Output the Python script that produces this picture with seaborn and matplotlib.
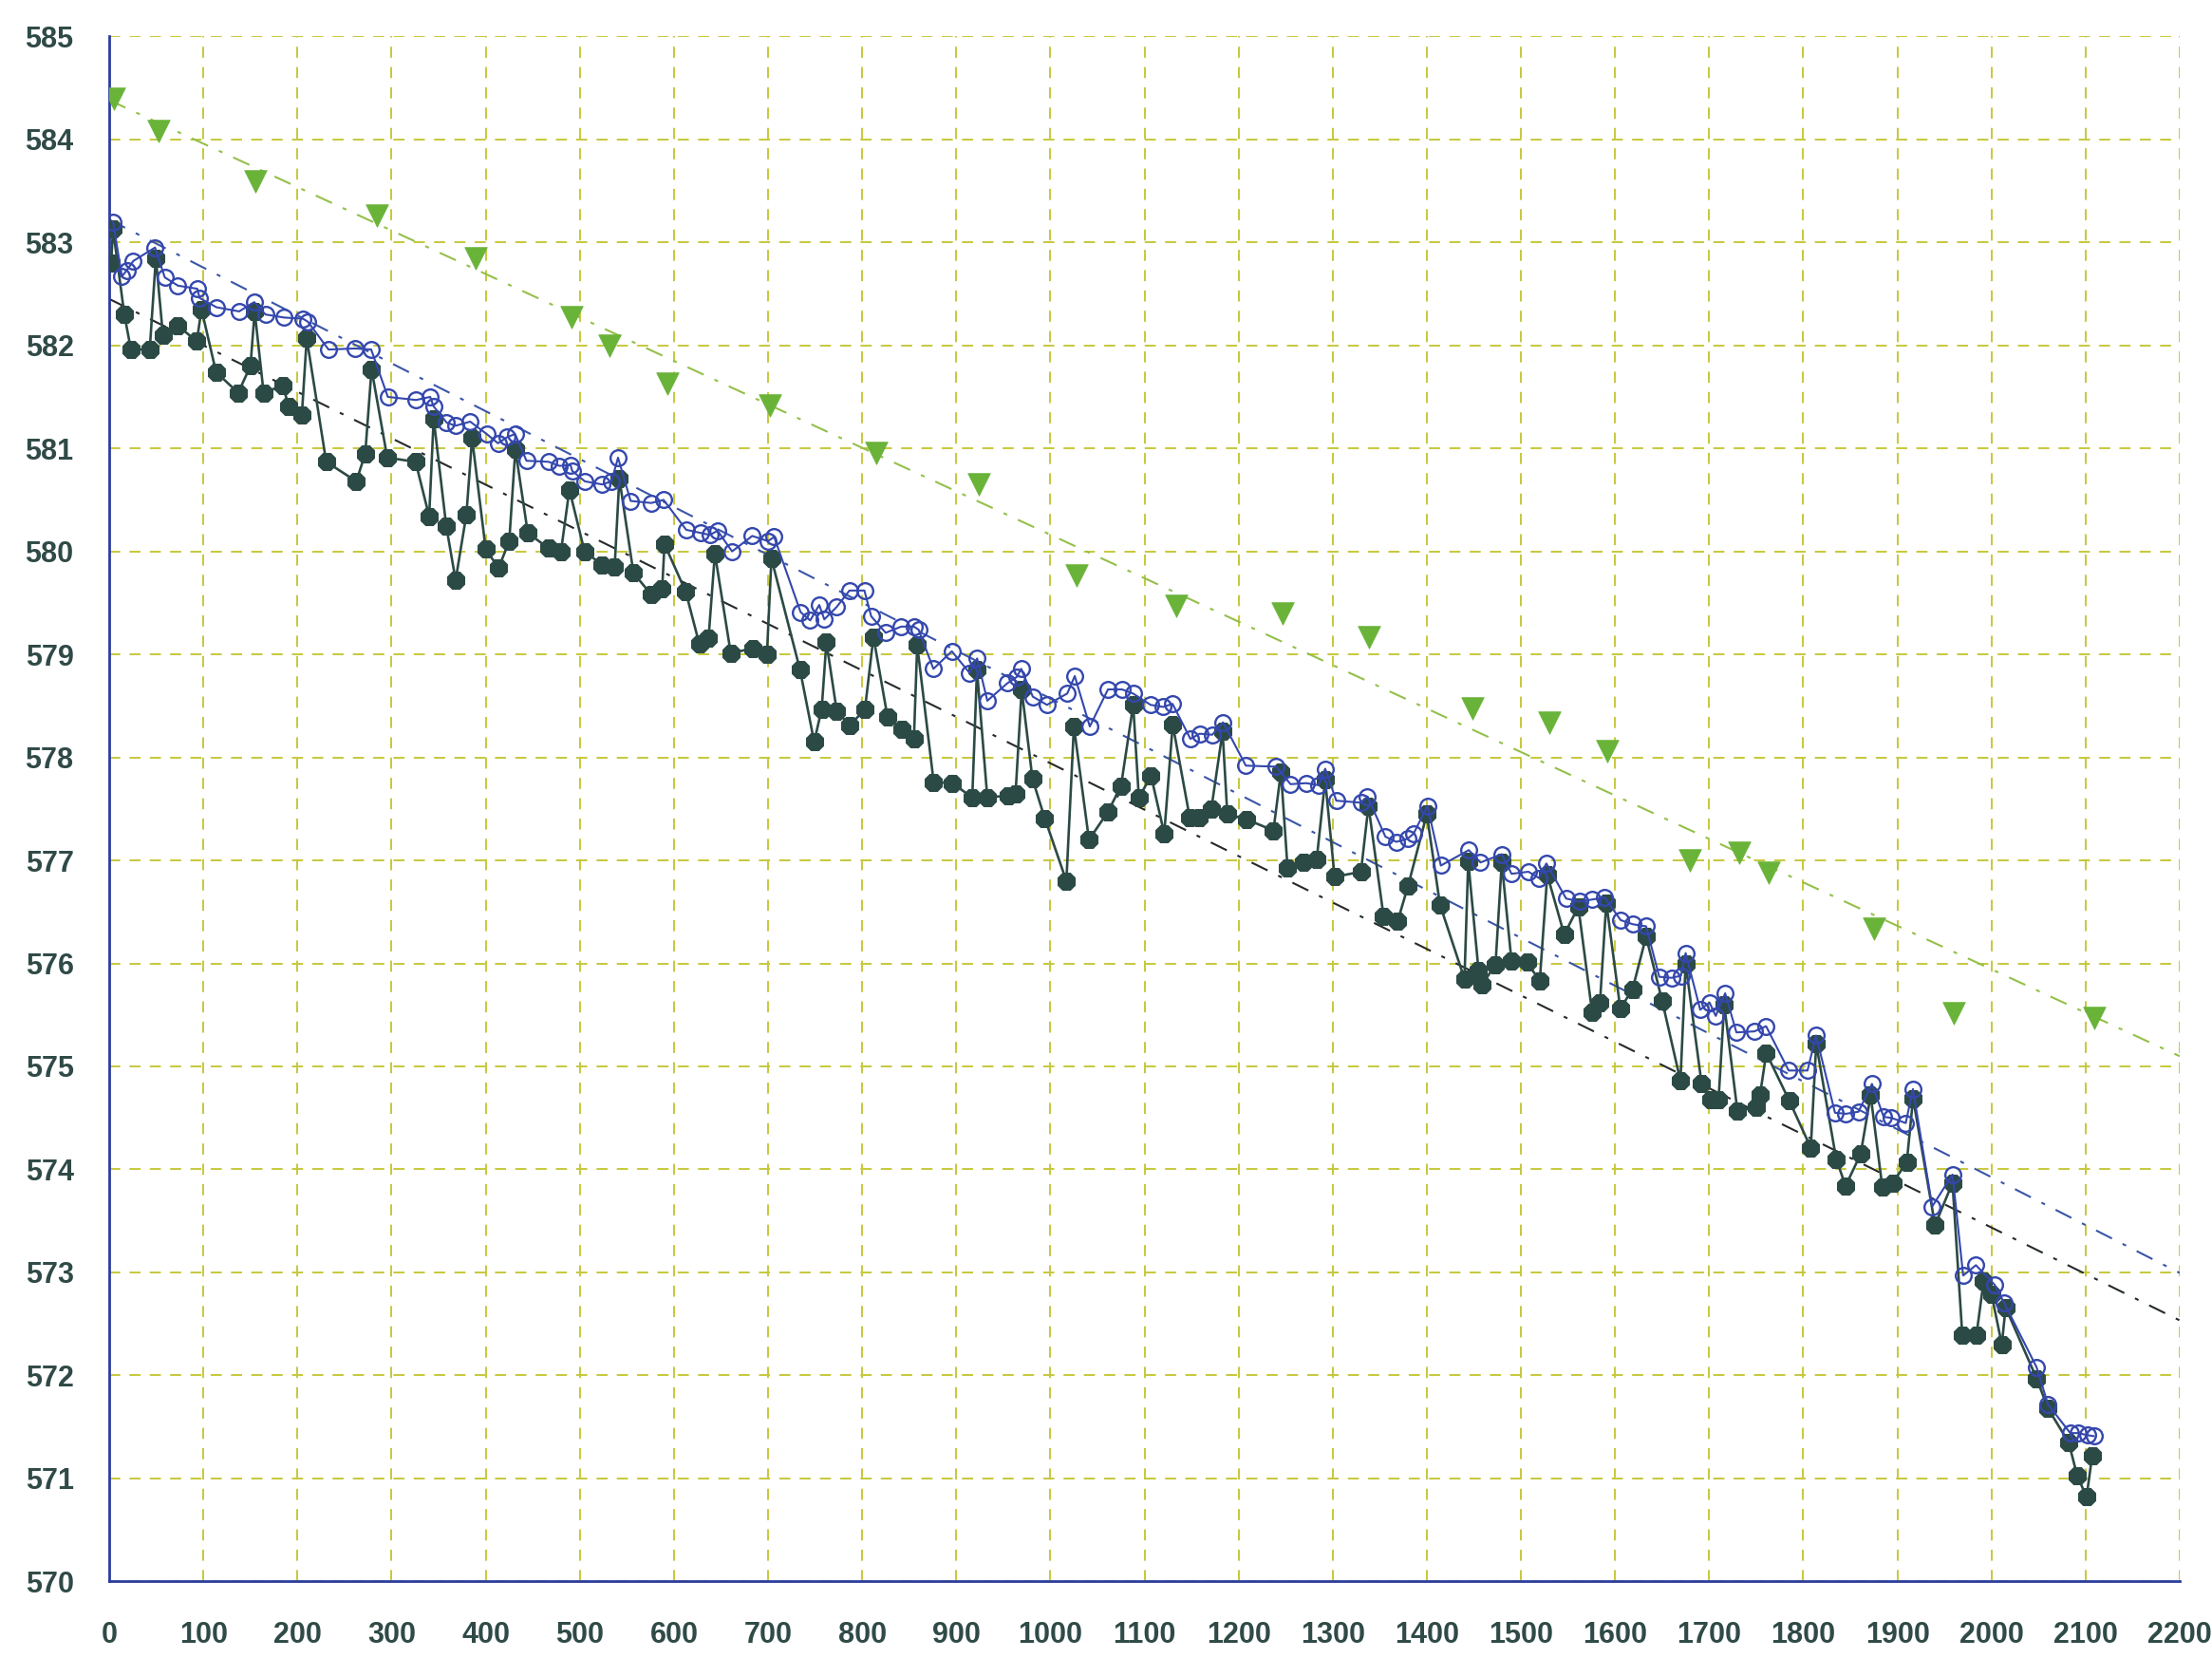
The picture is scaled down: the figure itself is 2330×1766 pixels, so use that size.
import numpy as np
import pandas as pd
import matplotlib
matplotlib.use("Agg")
import matplotlib.pyplot as plt
from matplotlib.ticker import MultipleLocator
import seaborn as sns

# ---- profile data: distance (m) vs elevation (m) ----
# upper profile (open circles)
open_x = [4, 13.4, 18.7, 25.6, 48.6, 59, 73, 93.5, 96, 114,
          138, 154, 166, 186, 205.7, 211, 233, 261.6, 278.3, 296,
          326, 341, 344.5, 358.5, 368, 383.5, 401, 413, 423, 431.2,
          443.3, 466.7, 478.5, 490, 492, 505.4, 523.8, 533.7, 540.6, 554,
          575.9, 589, 613, 628, 638, 646.4, 661.8, 683.2, 700, 706.5,
          734.6, 744.8, 754.4, 759.8, 772.9, 786.5, 802.4, 809.6, 825, 841.5,
          855, 860, 875.7, 895.3, 914.2, 922.2, 933, 954.3, 964.2, 969,
          981.3, 996.4, 1017.9, 1025.9, 1041.9, 1061.2, 1076.2, 1087.9, 1106.5, 1119.9,
          1129.8, 1148.8, 1158.7, 1172, 1183.5, 1207.7, 1240, 1255.2, 1271.8, 1285,
          1292, 1303.8, 1330.5, 1337, 1356, 1367.6, 1379.5, 1386, 1400.6, 1414.9,
          1444.6, 1457, 1479.7, 1490, 1508, 1519, 1527, 1548, 1562, 1575.5,
          1589, 1606, 1619, 1633, 1647, 1660, 1670, 1675, 1690.5, 1700.4,
          1707, 1717, 1729, 1748, 1760.5, 1784.5, 1804.5, 1813.6, 1833.7, 1845.4,
          1858.7, 1873, 1885.4, 1893.8, 1908.9, 1916.5, 1937, 1958.6, 1969.9, 1983.5,
          2003.4, 2013.7, 2047.9, 2060, 2083.7, 2092, 2102, 2108.8]
open_y = [583.20, 582.67, 582.73, 582.82, 582.95, 582.66, 582.58, 582.55, 582.46, 582.37,
          582.33, 582.42, 582.30, 582.27, 582.26, 582.23, 581.96, 581.97, 581.96, 581.50,
          581.47, 581.50, 581.41, 581.25, 581.22, 581.26, 581.14, 581.05, 581.11, 581.14,
          580.88, 580.87, 580.83, 580.84, 580.78, 580.68, 580.65, 580.68, 580.91, 580.49,
          580.47, 580.50, 580.21, 580.18, 580.16, 580.20, 580.00, 580.15, 580.10, 580.14,
          579.41, 579.33, 579.48, 579.34, 579.46, 579.62, 579.62, 579.37, 579.21, 579.27,
          579.27, 579.24, 578.86, 579.03, 578.82, 578.96, 578.55, 578.72, 578.78, 578.86,
          578.59, 578.51, 578.62, 578.79, 578.30, 578.66, 578.66, 578.62, 578.51, 578.49,
          578.52, 578.18, 578.23, 578.22, 578.34, 577.92, 577.91, 577.74, 577.75, 577.73,
          577.89, 577.58, 577.56, 577.62, 577.23, 577.18, 577.21, 577.26, 577.53, 576.95,
          577.10, 576.98, 577.06, 576.87, 576.89, 576.83, 576.97, 576.63, 576.60, 576.62,
          576.64, 576.42, 576.38, 576.36, 575.87, 575.86, 575.88, 576.10, 575.55, 575.62,
          575.49, 575.71, 575.33, 575.34, 575.39, 574.96, 574.96, 575.30, 574.55, 574.54,
          574.56, 574.83, 574.51, 574.50, 574.45, 574.78, 573.64, 573.95, 572.97, 573.07,
          572.88, 572.70, 572.08, 571.72, 571.44, 571.44, 571.42, 571.41]

# lower profile (filled dots)
fill_x = [2, 4, 16, 23, 43, 49.5, 57, 73, 93, 98,
          113.5, 137, 150, 154.5, 164, 184, 191, 204.6, 209.8, 230.5,
          262.5, 272, 278.7, 295.4, 325.5, 339.9, 344.7, 358, 368, 379.5,
          385.5, 400, 413.7, 425, 431.5, 444.7, 466.7, 480, 488.9, 505,
          523.7, 537, 542, 557, 576, 587.5, 590, 612.5, 627, 636.8,
          643.5, 660.4, 683.7, 698.8, 703.6, 734, 749, 757, 762, 773,
          787, 803, 812, 827, 842, 855, 858.5, 876, 896, 917,
          922, 933, 955, 963, 969.5, 981, 994, 1017, 1025, 1041,
          1061, 1075, 1088, 1094, 1107, 1121, 1130, 1148, 1158, 1171,
          1183, 1188, 1208, 1237, 1245, 1252, 1268.5, 1283, 1292, 1302,
          1330, 1338, 1354, 1369, 1380, 1400, 1414, 1440, 1444, 1455,
          1458.5, 1473, 1479.6, 1490, 1506.5, 1520, 1528, 1546, 1561, 1575.6,
          1584, 1590.7, 1605.6, 1618.6, 1633, 1650, 1669.5, 1675, 1692, 1702,
          1710, 1716, 1730, 1750, 1754, 1760.7, 1785, 1808, 1813.8, 1835,
          1845, 1861, 1871.6, 1884, 1895, 1910, 1916.7, 1940, 1958.6, 1969,
          1984, 1991.7, 2000, 2011, 2015, 2048, 2060, 2082, 2091, 2101,
          2107]
fill_y = [582.80, 583.13, 582.30, 581.96, 581.96, 582.85, 582.10, 582.19, 582.04, 582.35,
          581.74, 581.54, 581.80, 582.33, 581.54, 581.61, 581.41, 581.32, 582.07, 580.87,
          580.68, 580.95, 581.77, 580.91, 580.87, 580.34, 581.29, 580.25, 579.72, 580.36,
          581.10, 580.02, 579.84, 580.10, 580.99, 580.18, 580.03, 580.00, 580.60, 580.00,
          579.87, 579.85, 580.71, 579.79, 579.58, 579.64, 580.07, 579.61, 579.10, 579.16,
          579.98, 579.01, 579.06, 579.00, 579.93, 578.85, 578.15, 578.47, 579.12, 578.45,
          578.31, 578.47, 579.17, 578.39, 578.27, 578.18, 579.09, 577.76, 577.75, 577.61,
          578.85, 577.61, 577.63, 577.65, 578.66, 577.79, 577.41, 576.80, 578.30, 577.20,
          577.47, 577.72, 578.51, 577.61, 577.82, 577.26, 578.32, 577.42, 577.42, 577.50,
          578.25, 577.45, 577.40, 577.29, 577.86, 576.93, 576.98, 577.01, 577.78, 576.84,
          576.89, 577.53, 576.46, 576.41, 576.75, 577.45, 576.57, 575.85, 576.99, 575.93,
          575.79, 575.99, 576.98, 576.02, 576.01, 575.83, 576.86, 576.28, 576.55, 575.53,
          575.62, 576.59, 575.56, 575.75, 576.26, 575.64, 574.86, 576.00, 574.83, 574.68,
          574.68, 575.60, 574.57, 574.60, 574.72, 575.13, 574.67, 574.21, 575.22, 574.10,
          573.84, 574.15, 574.72, 573.83, 573.87, 574.07, 574.69, 573.46, 573.87, 572.39,
          572.39, 572.92, 572.79, 572.30, 572.66, 571.97, 571.68, 571.35, 571.03, 570.82,
          571.22]

# sparse reference points (triangles)
tri_x = [5, 52, 155, 284, 389, 491, 532, 593, 702, 815, 924, 1028,
         1134, 1247, 1339, 1448, 1530, 1592, 1679, 1732, 1763, 1875, 1960, 2109]
tri_y = [584.39, 584.08, 583.59, 583.26, 582.85, 582.27, 582.00, 581.63, 581.42, 580.96, 580.65, 579.77,
         579.47, 579.40, 579.17, 578.48, 578.34, 578.06, 577.00, 577.07, 576.88, 576.34, 575.52, 575.47]

x_ticks = list(range(0, 2201, 100))
y_ticks = list(range(570, 586, 1))

# ---- styling ----
AXIS_BLUE = "#2b3c9e"
LABEL_COL = "#2f4a47"
GRID_COL = "#c6c83c"
OPEN_COL = "#3447ad"
FILL_COL = "#2c4a45"
TRI_COL = "#69b339"

sns.set_style("white")
plt.rcParams["font.family"] = ["Liberation Sans", "DejaVu Sans"]

fig = plt.figure(figsize=(23.3, 17.66), dpi=100)
ax = fig.add_axes([0.0494, 0.057, 0.936, 0.9213])
ax.set_xlim(0, 2200)
ax.set_ylim(570, 585)

df_open = pd.DataFrame({"x": open_x, "y": open_y})
df_fill = pd.DataFrame({"x": fill_x, "y": fill_y})
df_tri = pd.DataFrame({"x": tri_x, "y": tri_y})

# fitted trend lines across the full distance range
dd = (0, (9, 6, 2, 6))
sns.regplot(data=df_tri, x="x", y="y", ax=ax, scatter=False, ci=None, truncate=False,
            line_kws=dict(color="#94c04a", lw=1.5, ls=dd, zorder=2))
sns.regplot(data=df_open, x="x", y="y", ax=ax, scatter=False, ci=None, truncate=False,
            line_kws=dict(color="#3a55a8", lw=1.5, ls=dd, zorder=2))
sns.regplot(data=df_fill, x="x", y="y", ax=ax, scatter=False, ci=None, truncate=False,
            line_kws=dict(color="#262a2a", lw=1.5, ls=dd, zorder=2))

# lower profile
sns.lineplot(data=df_fill, x="x", y="y", ax=ax, sort=False, estimator=None,
             color=FILL_COL, lw=1.9, marker="8", markersize=14,
             markerfacecolor=FILL_COL, markeredgecolor=FILL_COL, zorder=3)
# upper profile
sns.lineplot(data=df_open, x="x", y="y", ax=ax, sort=False, estimator=None,
             color=OPEN_COL, lw=1.5, marker="o", markersize=12,
             markerfacecolor="none", markeredgecolor=OPEN_COL, markeredgewidth=1.7, zorder=4)
# triangles
sns.scatterplot(data=df_tri, x="x", y="y", ax=ax, marker="v", s=290,
                color=TRI_COL, edgecolor=TRI_COL, linewidth=0.5, zorder=5)

ax.set_xlim(0, 2200)
ax.set_ylim(570, 585)
ax.set_xticks(x_ticks)
ax.set_yticks(y_ticks)
ax.xaxis.set_minor_locator(MultipleLocator(25))
ax.yaxis.set_minor_locator(MultipleLocator(0.2))

ax.grid(True, which="major", color=GRID_COL, ls=(0, (6, 5)), lw=1.4)
ax.set_axisbelow(True)

for side in ("top", "right"):
    ax.spines[side].set_visible(False)
for side in ("left", "bottom"):
    ax.spines[side].set_color(AXIS_BLUE)
    ax.spines[side].set_linewidth(2.0)

ax.tick_params(which="major", direction="out", length=25, width=1.6, color=AXIS_BLUE,
               labelsize=22, labelcolor=LABEL_COL, pad=5)
ax.tick_params(axis="y", which="major", length=25, pad=2)
ax.tick_params(which="minor", direction="out", length=12, width=1.6, color=AXIS_BLUE)
ax.tick_params(axis="x", which="minor", length=11)
for lab in ax.get_xticklabels() + ax.get_yticklabels():
    lab.set_fontweight("bold")

ax.set_xlabel("")
ax.set_ylabel("")
if ax.get_legend() is not None:
    ax.get_legend().remove()

fig.savefig("out.png", dpi=100, facecolor="white")
